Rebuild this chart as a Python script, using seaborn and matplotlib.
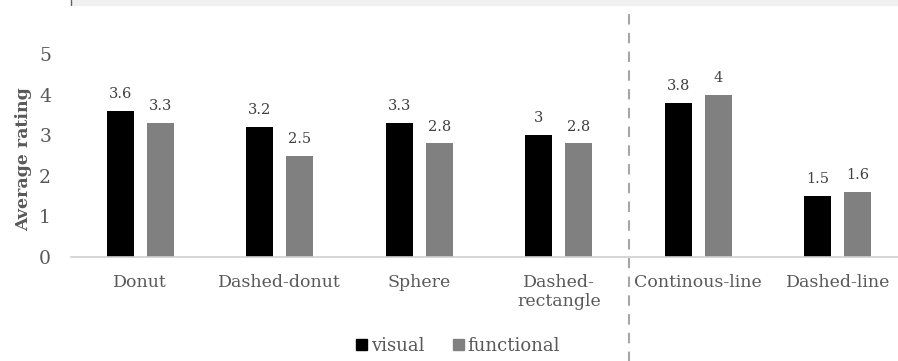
import matplotlib
matplotlib.use("Agg")
import matplotlib.pyplot as plt
import seaborn as sns
import pandas as pd
from matplotlib.patches import Rectangle
from matplotlib.lines import Line2D

# Ratings per shape, for the two aspects
categories = ["Donut", "Dashed-donut", "Sphere", "Dashed-\nrectangle",
              "Continous-line", "Dashed-line"]
visual = [3.6, 3.2, 3.3, 3.0, 3.8, 1.5]
functional = [3.3, 2.5, 2.8, 2.8, 4.0, 1.6]
value_labels_visual = ["3.6", "3.2", "3.3", "3", "3.8", "1.5"]
value_labels_functional = ["3.3", "2.5", "2.8", "2.8", "4", "1.6"]
series = ["visual", "functional"]
yticks = [0, 1, 2, 3, 4, 5]

df = pd.DataFrame({
    "category": categories * 2,
    "rating": visual + functional,
    "aspect": ["visual"] * len(categories) + ["functional"] * len(categories),
})

sns.set_theme(style="white")
plt.rcParams["font.family"] = ["DejaVu Serif"]

text_gray = "#595959"
colors = {"visual": "#000000", "functional": "#808080"}

fig = plt.figure(figsize=(8.98, 3.61), dpi=100)
ax = fig.add_axes([70.5 / 898, 104 / 361, 837 / 898, 5.5 * 40.6 / 361])

sns.barplot(data=df, x="category", y="rating", hue="aspect", hue_order=series,
            palette=colors, width=0.574, gap=0.32, ax=ax, legend=False,
            linewidth=0, saturation=1)

# value labels on top of bars
for container, labels in zip(ax.containers, [value_labels_visual, value_labels_functional]):
    ax.bar_label(container, labels=labels, padding=7, fontsize=10.5, color="#404040")

ax.set_ylim(0, 5.5)
ax.set_xlim(-0.5, len(categories) - 0.5)
ax.set_yticks(yticks)
ax.set_yticklabels([str(t) for t in yticks], fontsize=13.5, color=text_gray)
ax.tick_params(axis="y", length=0, pad=14)
ax.tick_params(axis="x", length=0, pad=12, labelsize=12.5, labelcolor=text_gray)
ax.set_xlabel("")
ax.set_ylabel("Average rating", fontsize=12.5, fontweight="bold", color=text_gray)
ax.yaxis.set_label_coords(-0.046, 0.44)

for side in ["top", "right", "left"]:
    ax.spines[side].set_visible(False)
ax.spines["bottom"].set_color("#d0d0d0")
ax.spines["bottom"].set_linewidth(1.2)

# separator between shape groups and line groups
sep = Line2D([3.5, 3.5], [-2.6, 6.03], transform=ax.transData, color="#a6a6a6",
             linestyle=(0, (5, 4)), linewidth=1.5, clip_on=False)
ax.add_line(sep)

# header strip
fig.patches.append(Rectangle((72 / 898, 1 - 5 / 361), 1, 5 / 361,
                             transform=fig.transFigure, color="#f0f0f0", zorder=0))
fig.lines.append(Line2D([71 / 898, 71 / 898], [1, 1 - 5 / 361],
                        transform=fig.transFigure, color="#606060", linewidth=1))

handles = [Rectangle((0, 0), 1, 1, color=colors[s]) for s in series]
fig.legend(handles, series, loc="center", bbox_to_anchor=(458 / 898, 15 / 361),
           ncol=2, frameon=False, fontsize=13, handlelength=0.6, handleheight=0.6,
           handletextpad=0.2, columnspacing=1.6, labelcolor=text_gray)

fig.savefig("out.png", dpi=100)
